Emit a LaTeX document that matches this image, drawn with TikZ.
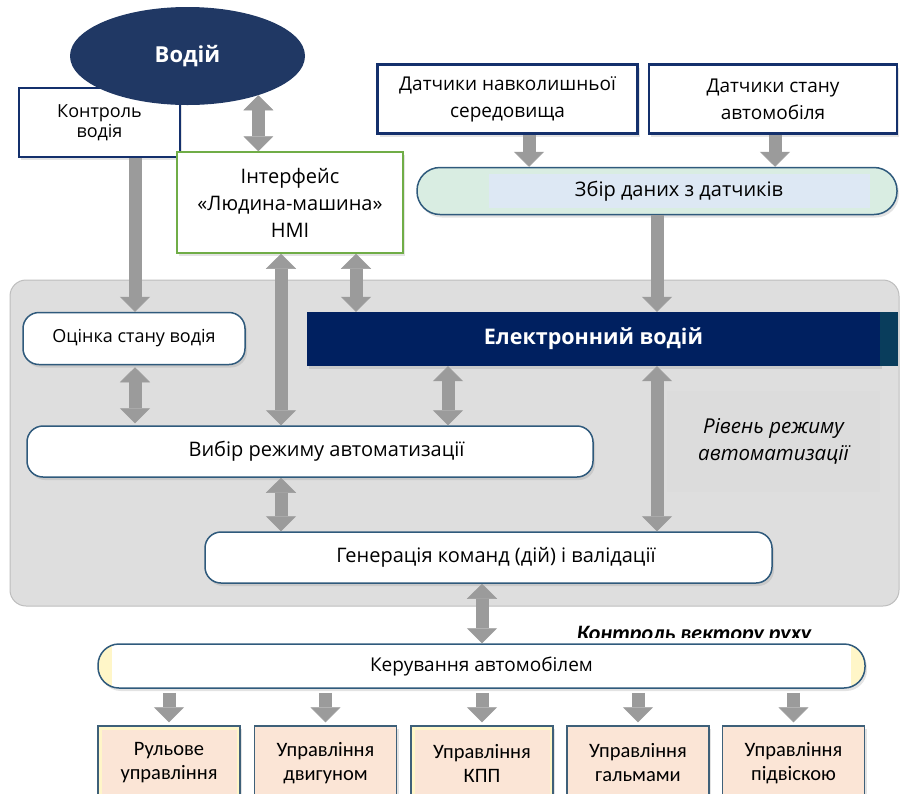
\documentclass[tikz,border=0pt]{standalone}
\usepackage{fontspec}
\setmainfont{Open Sans}
\newfontfamily\carl{Carlito}
\usetikzlibrary{shapes.geometric,arrows.meta,shadows,calc}
\definecolor{navyE}{HTML}{203864}
\definecolor{navyB}{HTML}{14306C}
\definecolor{edark}{HTML}{002060}
\definecolor{estrip}{HTML}{093D5C}
\definecolor{tealB}{HTML}{2F5A7C}
\definecolor{greenB}{HTML}{70AD47}
\definecolor{arrg}{HTML}{9B9B9B}
\definecolor{contfill}{HTML}{DEDEDE}
\definecolor{contline}{HTML}{BDBDBD}
\definecolor{rivfill}{HTML}{DCDCDC}
\definecolor{zbirfill}{HTML}{D9EDE2}
\definecolor{zbirin}{HTML}{DDE8F4}
\definecolor{peach}{HTML}{FBE5D6}
\definecolor{ylw}{HTML}{FFF6C8}
\definecolor{botB}{HTML}{3E6079}
\tikzset{
  shd/.style={drop shadow={opacity=0.22,shadow xshift=2pt,shadow yshift=-3pt}},
  navybox/.style={draw=navyB, line width=2.5pt, fill=white, shd, inner sep=0pt, align=center},
  rbox/.style={draw=tealB, line width=1.5pt, fill=white, rounded corners=16pt, shd, inner sep=0pt},
  botbox/.style={draw=botB, line width=1.5pt, fill=peach, minimum width=142pt, minimum height=74pt,
    inner sep=0pt, align=center, font=\carl\fontsize{20.5}{24}\selectfont, shd},
  yframe/.style={path picture={\draw[ylw,line width=3pt] ([xshift=2pt,yshift=-2pt]path picture bounding box.north west) rectangle ([xshift=-2pt,yshift=2pt]path picture bounding box.south east);}},
  garrow/.style={draw=arrg, line width=13pt, -{Triangle[width=30pt,length=15pt,line width=0.5pt]}},
  darrow/.style={draw=arrg, line width=13pt, {Triangle[width=30pt,length=15pt,line width=0.5pt]}-{Triangle[width=30pt,length=15pt,line width=0.5pt]}}
}
\begin{document}
\begin{tikzpicture}[x=1pt,y=-1pt]
\useasboundingbox (0,0) rectangle (901,793);
% background container
\node[draw=contline, line width=1pt, fill=contfill, rounded corners=16pt,
  minimum width=889pt, minimum height=326pt, inner sep=0pt] (cont) at (454.5,443) {};
\node[fill=rivfill, minimum width=213pt, minimum height=101pt, inner sep=0pt, align=center,
  font=\itshape\fontsize{20.5}{27}\selectfont] (riv) at (773.5,441) {Рівень режиму\\автоматизації};
% top part
\node[navybox, minimum width=161pt, minimum height=69pt, font=\fontsize{18}{19.5}\selectfont] (kontr) at (99.5,122.5) {Контроль\\водія};
\node[ellipse, fill=navyE, minimum width=235pt, minimum height=98pt, inner sep=0pt, text=white,
  font=\bfseries\fontsize{22}{26}\selectfont] (vodiy) at (187.5,56) {Водій};
\node[draw=greenB, line width=1.5pt, fill=white, shd, minimum width=226pt, minimum height=101pt, inner sep=0pt,
  align=center, font=\fontsize{20}{27}\selectfont] (intf) at (290,202.5) {Інтерфейс\\«Людина-машина»\\HMI};
\node[navybox, minimum width=260pt, minimum height=69pt, font=\fontsize{19}{27}\selectfont] (dnav) at (507.5,99) {Датчики навколишньої\\середовища};
\node[navybox, minimum width=248pt, minimum height=69pt, font=\fontsize{19}{27}\selectfont] (dst) at (773,99) {Датчики стану\\автомобіля};
\node[draw=tealB, line width=1.5pt, fill=zbirfill, rounded corners=23pt, minimum width=480pt, minimum height=47pt,
  inner sep=0pt, shd, font=\fontsize{20}{22}\selectfont,
  path picture={\fill[zbirin, sharp corners] ([xshift=72pt,yshift=-6pt]path picture bounding box.north west) rectangle ([xshift=-27pt,yshift=7pt]path picture bounding box.south east);}]
  (zbir) at (657,191) {\hspace*{44pt}Збір даних з датчиків};
% inside container
\node[rbox, minimum width=222pt, minimum height=52pt, font=\fontsize{18}{20}\selectfont] (ocin) at (134,338.5) {Оцінка стану водія};
\node[fill=edark, minimum width=573pt, minimum height=54pt, inner sep=0pt, text=white, shd,
  font=\bfseries\fontsize{21.5}{25}\selectfont] (edrv) at (593.5,339) {Електронний водій};
\fill[estrip] (edrv.north east) rectangle ++(18,54);
\node[rbox, minimum width=566pt, minimum height=51pt, font=\fontsize{20}{22}\selectfont] (vyb) at (310,451.5) {\hspace*{33pt}Вибір режиму автоматизації};
\node[rbox, minimum width=567pt, minimum height=51pt, font=\fontsize{20}{22}\selectfont] (gen) at (488.5,557.5) {\hspace*{15pt}Генерація команд (дій) і валідації};
% bottom
\begin{scope}
\clip (500,600) rectangle (901,637);
\node[anchor=base, inner sep=0pt, font=\carl\bfseries\itshape\fontsize{22}{26}\selectfont] (kvr) at (694,640) {Контроль вектору руху};
\end{scope}
\node[draw=tealB, line width=1.5pt, fill=white, rounded corners=21pt, minimum width=767pt, minimum height=44pt,
  inner sep=0pt, shd, font=\fontsize{19}{20}\selectfont,
  path picture={\fill[ylw, sharp corners] (path picture bounding box.north west) rectangle ([xshift=14pt]path picture bounding box.south west);
                \fill[ylw, sharp corners] ([xshift=-14pt]path picture bounding box.north east) rectangle (path picture bounding box.south east);}]
  (ker) at (481.5,666) {Керування автомобілем};
\node[botbox, yframe] (b1) at (169,763) {Рульове\\управління};
\node[botbox] (b2) at (325.5,763) {Управління\\двигуном};
\node[botbox, yframe] (b3) at (482,763) {Управління\\КПП};
\node[botbox] (b4) at (638,763) {Управління\\гальмами};
\node[botbox] (b5) at (793.5,763) {Управління\\підвіскою};
% arrow columns
\coordinate (c135) at (135,0);
\coordinate (c281) at (281,0);
\coordinate (c356) at (356,0);
\coordinate (c448) at (448,0);
\coordinate (c529) at (529,0);
\coordinate (c657) at (657,0);
\coordinate (c775) at (775,0);
\coordinate (c482) at (482,0);
% arrows
\draw[darrow] (vodiy.-29) -- (vodiy.-29 |- intf.north);
\draw[garrow] (kontr.south -| c135) -- (ocin.north -| c135);
\draw[darrow, shorten <=2pt, shorten >=2pt] (ocin.south -| c135) -- (vyb.north -| c135);
\draw[darrow] (intf.south -| c281) -- (vyb.north -| c281);
\draw[darrow] (intf.south -| c356) -- (edrv.north -| c356);
\draw[garrow] (dnav.south -| c529) -- (zbir.north -| c529);
\draw[garrow] (dst.south -| c775) -- (zbir.north -| c775);
\draw[garrow] (zbir.south -| c657) -- (edrv.north -| c657);
\draw[darrow] (edrv.south -| c448) -- (vyb.north -| c448);
\draw[darrow] (edrv.south -| c657) -- (gen.north -| c657);
\draw[darrow] (vyb.south -| c281) -- (gen.north -| c281);
\draw[darrow] (gen.south -| c482) -- (ker.north -| c482);
\foreach \b in {b1,b2,b3,b4,b5}
  \draw[garrow, shorten <=4pt, shorten >=3pt] (ker.south -| \b.north) -- (\b.north);
\end{tikzpicture}
\end{document}
